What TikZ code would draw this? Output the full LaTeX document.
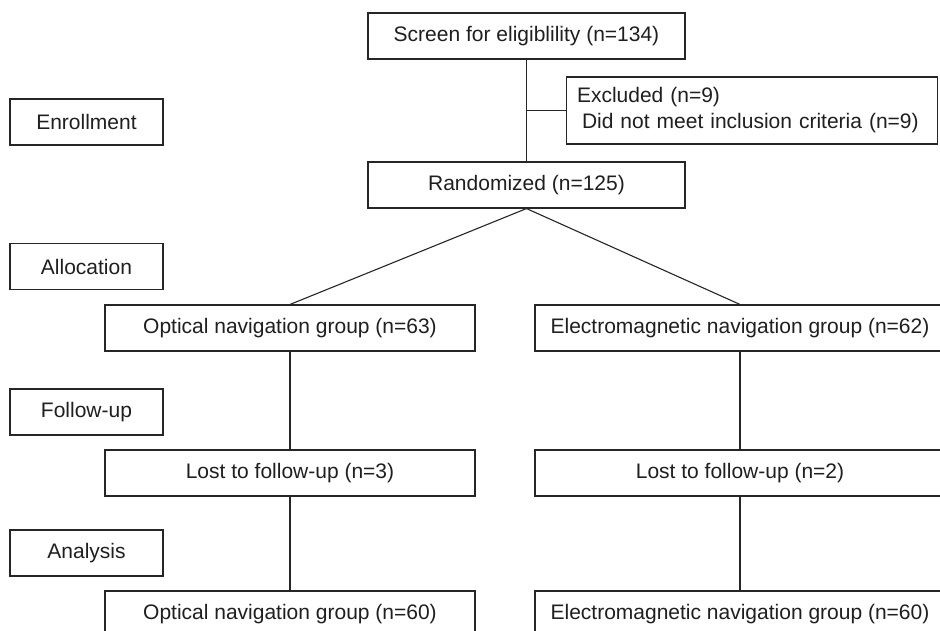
\documentclass[tikz,border=0pt]{standalone}
\usepackage{fontspec}
\setmainfont{Liberation Sans}
\begin{document}
\begin{tikzpicture}[x=1pt,y=-1pt,
  box/.style={draw=black!85, line width=1.1pt, text=black!88, inner sep=0pt,
    font=\fontsize{21}{26}\selectfont, anchor=center},
  conn/.style={draw=black!85, line width=1.1pt}]
\clip (0,0) rectangle (940,630);
\fill[white] (0,0) rectangle (940,630);
% stage labels
\node[box, minimum width=153pt, minimum height=46pt] (enroll) at (86.5,122) {Enrollment};
\node[box, minimum width=153pt, minimum height=46pt] (alloc) at (86.5,266.5) {Allocation};
\node[box, minimum width=153pt, minimum height=46pt] (follow) at (86.5,412) {Follow-up};
\node[box, minimum width=153pt, minimum height=46pt] (analysis) at (86.5,553) {Analysis};
% main column
\node[box, minimum width=317pt, minimum height=46pt] (screen) at (526.5,36) {Screen for eligiblility (n=134)};
\node[box, inner xsep=10.5pt, text width=350pt, minimum height=67pt, align=left] (excl) at (752,110.5)
  {Excluded (n=9)\\\hspace*{5pt}Did not meet inclusion criteria (n=9)};
\node[box, minimum width=317pt, minimum height=46pt] (rand) at (526.5,185) {Randomized (n=125)};
% groups
\node[box, minimum width=370pt, minimum height=46pt] (opt1) at (290,328) {Optical navigation group (n=63)};
\node[box, minimum width=410pt, minimum height=46pt] (em1) at (740,328) {Electromagnetic navigation group (n=62)};
\node[box, minimum width=370pt, minimum height=46pt] (lost1) at (290,473) {Lost to follow-up (n=3)};
\node[box, minimum width=410pt, minimum height=46pt] (lost2) at (740,473) {Lost to follow-up (n=2)};
\node[box, minimum width=370pt, minimum height=46pt] (opt2) at (290,614) {Optical navigation group (n=60)};
\node[box, minimum width=410pt, minimum height=46pt] (em2) at (740,614) {Electromagnetic navigation group (n=60)};
% connectors
\draw[conn] (screen.south) -- (rand.north);
\coordinate (branch) at (screen.south |- excl.west);
\draw[conn] (branch) -- (excl.west);
\draw[conn] (opt1.north) -- (rand.south) -- (em1.north);
\draw[conn] (opt1.south) -- (lost1.north);
\draw[conn] (lost1.south) -- (opt2.north);
\draw[conn] (em1.south) -- (lost2.north);
\draw[conn] (lost2.south) -- (em2.north);
\end{tikzpicture}
\end{document}
